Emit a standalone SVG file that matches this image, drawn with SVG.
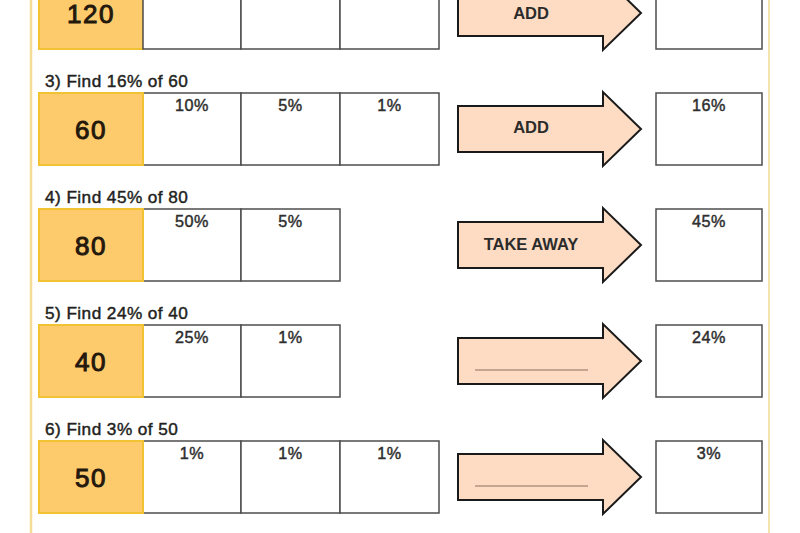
<svg xmlns="http://www.w3.org/2000/svg" xmlns:xlink="http://www.w3.org/1999/xlink" width="800" height="533" viewBox="0 0 800 533">
<style>
.bg{fill:#ffffff}
.num{fill:#fecb6c;stroke:#f1c232;stroke-width:2}
.cell{fill:#ffffff;stroke:#4d4d4d;stroke-width:1.5}
.arrow{fill:#fddcc3;stroke:#1a1a1a;stroke-width:2;stroke-linejoin:miter}
.t{font-family:"Liberation Sans",Arial,sans-serif;fill:#231f20}
.lbl{font-size:17.2px;letter-spacing:0.45px;stroke:#231f20;stroke-width:0.45}
.big{font-size:26px;letter-spacing:1.5px;text-anchor:middle;fill:#24180c;stroke:#24180c;stroke-width:1}
.pc{font-size:16.2px;letter-spacing:0.6px;text-anchor:middle;fill:#2e2e2e;stroke:#2e2e2e;stroke-width:0.45}
.op{font-size:16.5px;font-weight:bold;text-anchor:middle;fill:#2b2b2b}
.blank{stroke:#8c6f5e;stroke-width:1.2}
.border{stroke:#f5dc96;stroke-width:2.5}
.border2{stroke:#f3e3ae;stroke-width:2}
</style>
<defs>
<path id="arr" class="arrow" d="M458,13 H603 V-1 L641,36 L603,73 V59 H458 Z"/>
</defs>
<rect class="bg" x="0" y="0" width="800" height="533"/>
<line class="border" x1="31" y1="0" x2="31" y2="533"/>
<line class="border2" x1="769" y1="0" x2="769" y2="533"/>

<g id="connectors">
<use xlink:href="#arr" href="#arr" transform="translate(0,-23)"/>
<use xlink:href="#arr" href="#arr" transform="translate(0,93)"/>
<use xlink:href="#arr" href="#arr" transform="translate(0,209)"/>
<use xlink:href="#arr" href="#arr" transform="translate(0,325)"/>
<use xlink:href="#arr" href="#arr" transform="translate(0,441)"/>
<text class="t op" x="531" y="19">ADD</text>
<text class="t op" x="531" y="133">ADD</text>
<text class="t op" x="531" y="249.5">TAKE AWAY</text>
<line class="blank" x1="475" y1="370" x2="588" y2="370"/>
<line class="blank" x1="475" y1="486" x2="588" y2="486"/>
</g>

<g id="q2" transform="translate(0,-23)">
<rect class="num" x="39" y="0" width="104" height="72"/>
<text class="t big" x="91" y="45.5">120</text>
<rect class="cell" x="143" y="0" width="98" height="72"/>
<rect class="cell" x="241" y="0" width="99" height="72"/>
<rect class="cell" x="340" y="0" width="99" height="72"/>
<rect class="cell" x="656" y="0" width="106" height="72"/>
</g>

<g id="q3" transform="translate(0,93)">
<text class="t lbl" x="45" y="-5.7">3) Find 16% of 60</text>
<rect class="cell" x="143" y="0" width="98" height="72"/>
<rect class="cell" x="241" y="0" width="99" height="72"/>
<rect class="cell" x="340" y="0" width="99" height="72"/>
<rect class="num" x="39" y="0" width="104" height="72"/>
<text class="t big" x="91" y="45.5">60</text>
<text class="t pc" x="192" y="17.7">10%</text>
<text class="t pc" x="290.5" y="17.7">5%</text>
<text class="t pc" x="389.5" y="17.7">1%</text>
<rect class="cell" x="656" y="0" width="106" height="72"/>
<text class="t pc" x="709" y="17.7">16%</text>
</g>

<g id="q4" transform="translate(0,209)">
<text class="t lbl" x="45" y="-5.7">4) Find 45% of 80</text>
<rect class="cell" x="143" y="0" width="98" height="72"/>
<rect class="cell" x="241" y="0" width="99" height="72"/>
<rect class="num" x="39" y="0" width="104" height="72"/>
<text class="t big" x="91" y="45.5">80</text>
<text class="t pc" x="192" y="17.7">50%</text>
<text class="t pc" x="290.5" y="17.7">5%</text>
<rect class="cell" x="656" y="0" width="106" height="72"/>
<text class="t pc" x="709" y="17.7">45%</text>
</g>

<g id="q5" transform="translate(0,325)">
<text class="t lbl" x="45" y="-5.7">5) Find 24% of 40</text>
<rect class="cell" x="143" y="0" width="98" height="72"/>
<rect class="cell" x="241" y="0" width="99" height="72"/>
<rect class="num" x="39" y="0" width="104" height="72"/>
<text class="t big" x="91" y="45.5">40</text>
<text class="t pc" x="192" y="17.7">25%</text>
<text class="t pc" x="290.5" y="17.7">1%</text>
<rect class="cell" x="656" y="0" width="106" height="72"/>
<text class="t pc" x="709" y="17.7">24%</text>
</g>

<g id="q6" transform="translate(0,441)">
<text class="t lbl" x="45" y="-5.7">6) Find 3% of 50</text>
<rect class="cell" x="143" y="0" width="98" height="72"/>
<rect class="cell" x="241" y="0" width="99" height="72"/>
<rect class="cell" x="340" y="0" width="99" height="72"/>
<rect class="num" x="39" y="0" width="104" height="72"/>
<text class="t big" x="91" y="45.5">50</text>
<text class="t pc" x="192" y="17.7">1%</text>
<text class="t pc" x="290.5" y="17.7">1%</text>
<text class="t pc" x="389.5" y="17.7">1%</text>
<rect class="cell" x="656" y="0" width="106" height="72"/>
<text class="t pc" x="709" y="17.7">3%</text>
</g>
</svg>
